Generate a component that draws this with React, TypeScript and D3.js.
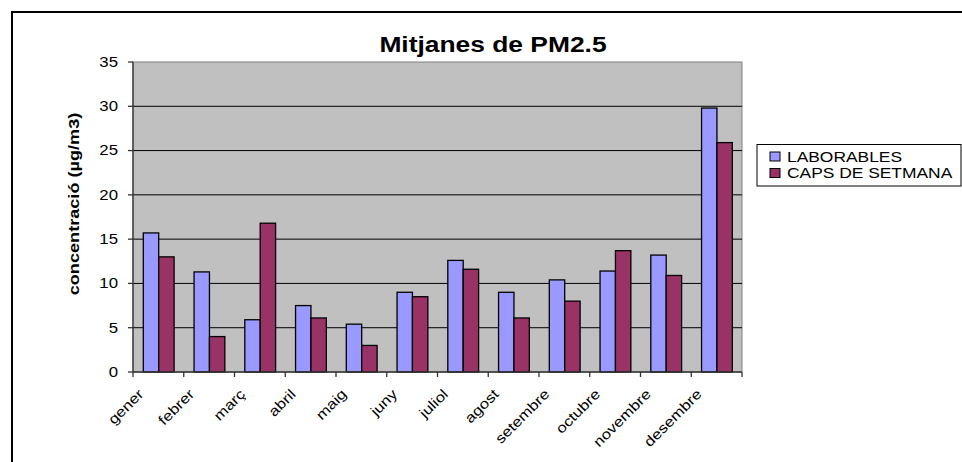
import * as d3 from 'd3';
import React from 'react';

const months = ['gener', 'febrer', 'març', 'abril', 'maig', 'juny', 'juliol', 'agost', 'setembre', 'octubre', 'novembre', 'desembre'];
const laborables = [15.7, 11.3, 5.9, 7.5, 5.4, 9.0, 12.6, 9.0, 10.4, 11.4, 13.2, 29.8];
const capsDeSetmana = [13.0, 4.0, 16.8, 6.1, 3.0, 8.5, 11.6, 6.1, 8.0, 13.7, 10.9, 25.9];
const seriesNames = ['LABORABLES', 'CAPS DE SETMANA'];
const seriesColors = ['#9999ff', '#993366'];
const yTicks = [0, 5, 10, 15, 20, 25, 30, 35];

export default function App() {
  const left = 133;
  const right = 742;
  const top = 62;
  const bottom = 372;
  const font = 'Arial, "Liberation Sans", sans-serif';
  const wide = 1.2; // the original text renders a bit wider than Arial

  const x = d3.scaleBand<string>().domain(months).range([left, right]).padding(0);
  const y = d3.scaleLinear().domain([0, 35]).range([bottom, top]);
  const inner = d3.scaleBand<number>().domain([0, 1]).range([10.3, 10.3 + 30.8]);
  const series = [laborables, capsDeSetmana];

  return (
    <div style={{ position: 'absolute', left: 0, top: 0 }}>
      <svg width={962} height={462} style={{ display: 'block' }}>
        <rect x={0} y={0} width={962} height={462} fill="#fff" />
        {/* outer frame, cropped at right and bottom */}
        <rect x={12} y={12} width={970} height={470} fill="none" stroke="#000" strokeWidth={2} />

        <text
          transform={`translate(493, 52) scale(${wide}, 1)`}
          textAnchor="middle"
          fontFamily={font}
          fontWeight="bold"
          fontSize={22}
        >
          Mitjanes de PM2.5
        </text>

        <rect x={left} y={top} width={right - left} height={bottom - top} fill="#c0c0c0" stroke="#808080" strokeWidth={1} />

        {yTicks.slice(1, -1).map(t => (
          <line key={t} x1={left} x2={right} y1={y(t)} y2={y(t)} stroke="#000" strokeWidth={1} />
        ))}

        {months.map((m, i) =>
          series.map((s, k) => (
            <rect
              key={m + k}
              x={(x(m) as number) + (inner(k) as number)}
              y={y(s[i])}
              width={inner.bandwidth()}
              height={bottom - y(s[i])}
              fill={seriesColors[k]}
              stroke="#000"
              strokeWidth={1.3}
            />
          ))
        )}

        {/* y axis */}
        <line x1={left} x2={left} y1={top} y2={bottom} stroke="#333" strokeWidth={1.3} />
        {yTicks.map(t => (
          <g key={t}>
            <line x1={left - 5} x2={left} y1={y(t)} y2={y(t)} stroke="#333" strokeWidth={1.3} />
            <text
              transform={`translate(${left - 15}, ${y(t)}) scale(${wide}, 1)`}
              dy="0.35em"
              textAnchor="end"
              fontFamily={font}
              fontSize={14}
            >
              {t}
            </text>
          </g>
        ))}
        <text
          transform={`translate(79, 204) rotate(-90) scale(1.17, 1)`}
          textAnchor="middle"
          fontFamily={font}
          fontWeight="bold"
          fontSize={15.5}
        >
          concentració (µg/m3)
        </text>

        {/* x axis */}
        <line x1={left} x2={right} y1={bottom} y2={bottom} stroke="#333" strokeWidth={1.3} />
        {[...months.map(m => x(m) as number), right].map((p, i) => (
          <line key={i} x1={p} x2={p} y1={bottom} y2={bottom + 5} stroke="#333" strokeWidth={1.3} />
        ))}
        {months.map(m => (
          <text
            key={m}
            transform={`translate(${(x(m) as number) + x.bandwidth() / 2 - 14}, 395) rotate(-45) scale(${wide}, 1)`}
            textAnchor="end"
            fontFamily={font}
            fontSize={14}
          >
            {m}
          </text>
        ))}

        {/* legend */}
        <rect x={757} y={144.5} width={204} height={41.5} fill="#fff" stroke="#000" strokeWidth={1} />
        {seriesNames.map((n, k) => (
          <g key={n}>
            <rect x={770} y={152 + k * 16.5} width={10} height={9} fill={seriesColors[k]} stroke="#000" strokeWidth={1} />
            <text
              transform={`translate(787, ${161.5 + k * 16.5}) scale(1.16, 1)`}
              fontFamily={font}
              fontSize={15}
            >
              {n}
            </text>
          </g>
        ))}
      </svg>
    </div>
  );
}
